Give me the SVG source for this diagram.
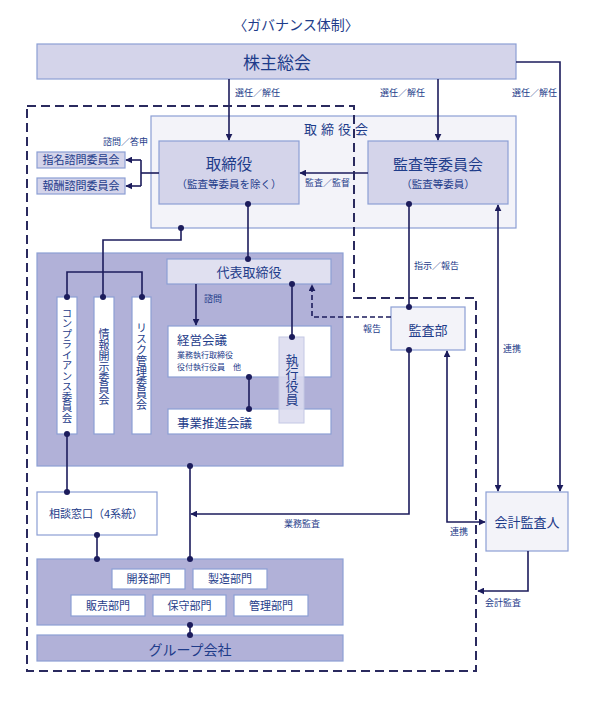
<svg xmlns="http://www.w3.org/2000/svg" width="595" height="702" viewBox="0 0 595 702">
<defs>
<style>
text{font-family:"Noto Sans CJK JP","Noto Sans",sans-serif;fill:#1e3c8a}
.box{stroke:#8c9fd4;stroke-width:1.2}
.lav{fill:#d4d4ea}
.pale{fill:#f3f3f9}
.wht{fill:#ffffff}
.pur{fill:#b1b1d8}
.ln{fill:none;stroke:#1c1c5c;stroke-width:1.6}
.dash{fill:none;stroke:#2a2a5e;stroke-width:2;stroke-dasharray:9 5}
.lbl{font-size:9px}
.mid{text-anchor:middle}
.vt{writing-mode:vertical-rl;text-anchor:middle}
</style>
<marker id="ar" viewBox="0 0 10 10" refX="9" refY="5" markerWidth="7" markerHeight="7" markerUnits="userSpaceOnUse" orient="auto-start-reverse">
<path d="M0,0 L10,5 L0,10 z" fill="#1c1c5c"/>
</marker>
<marker id="dt" viewBox="0 0 10 10" refX="5" refY="5" markerWidth="6" markerHeight="6" markerUnits="userSpaceOnUse">
<circle cx="5" cy="5" r="5" fill="#1c1c5c"/>
</marker>
</defs>
<rect width="595" height="702" fill="#ffffff"/>
<text id="title" x="296" y="30" class="mid" font-size="14">〈ガバナンス体制〉</text>

<g id="shareholders">
<rect class="box lav" x="37" y="44" width="479" height="35"/>
<text x="277" y="69" class="mid" font-size="17">株主総会</text>
</g>
<g id="board">
<rect class="box pale" x="151" y="116" width="365" height="112"/>
<text x="304" y="134" font-size="13" letter-spacing="4">取締役会</text>
</g>
<g id="directors">
<rect class="box lav" x="159" y="141" width="140" height="63"/>
<text x="229" y="170" class="mid" font-size="15.5">取締役</text>
<text x="229" y="187.5" class="mid" font-size="10.5">（監査等委員を除く）</text>
</g>
<g id="audit-committee">
<rect class="box lav" x="368" y="141" width="140" height="63"/>
<text x="438" y="170" class="mid" font-size="15">監査等委員会</text>
<text x="438" y="187.5" class="mid" font-size="10.5">（監査等委員）</text>
</g>
<g id="nomination">
<rect class="box lav" x="37" y="152" width="88" height="16"/>
<text x="81" y="164" class="mid" font-size="11">指名諮問委員会</text>
</g>
<g id="remuneration">
<rect class="box lav" x="37" y="178" width="88" height="16"/>
<text x="81" y="190" class="mid" font-size="11">報酬諮問委員会</text>
</g>
<g id="executive">
<rect class="box pur" x="37" y="253" width="306" height="213"/>
</g>
<g id="ceo">
<rect class="box" fill="#e0e0f0" x="167" y="259" width="164" height="25"/>
<text x="249" y="277" class="mid" font-size="13">代表取締役</text>
</g>
<g id="compliance">
<rect class="box wht" x="57" y="297" width="20" height="137"/>
<text x="67" y="365.5" class="vt" font-size="10.5">コンプライアンス委員会</text>
</g>
<g id="disclosure">
<rect class="box wht" x="94" y="297" width="20" height="137"/>
<text x="104" y="366.5" class="vt" font-size="11">情報開示委員会</text>
</g>
<g id="risk">
<rect class="box wht" x="132" y="297" width="19" height="137"/>
<text x="141.5" y="366.5" class="vt" font-size="11">リスク管理委員会</text>
</g>
<g id="management">
<rect class="box wht" x="168" y="326" width="163" height="51"/>
<text x="177" y="344.5" font-size="12.5">経営会議</text>
<text x="177" y="358.2" font-size="8">業務執行取締役</text>
<text x="177" y="370.2" font-size="8">役付執行役員　他</text>
</g>
<g id="business">
<rect class="box wht" x="168" y="409" width="163" height="25"/>
<text x="177" y="427.5" font-size="12.5">事業推進会議</text>
</g>
<g id="officers">
<rect x="279" y="337" width="25" height="86" fill="#dcdcef" fill-opacity="0.88" stroke="#c4c8e4" stroke-width="1"/>
<text x="292" y="380" class="vt" font-size="13">執行役員</text>
</g>
<g id="internal-audit">
<rect class="box pale" x="391" y="307" width="74" height="43"/>
<text x="428" y="335" class="mid" font-size="13">監査部</text>
</g>
<g id="auditor">
<rect class="box pale" x="486" y="492" width="82" height="59"/>
<text x="527" y="527" class="mid" font-size="13">会計監査人</text>
</g>
<g id="hotline">
<rect class="box wht" x="37" y="492" width="120" height="43"/>
<text x="96" y="518" class="mid" font-size="11">相談窓口（4系統）</text>
</g>
<g id="divisions">
<rect class="box pur" x="37" y="559" width="306" height="66"/>
<rect class="box wht" x="112" y="569" width="73" height="20"/>
<text x="148.5" y="583" class="mid" font-size="11">開発部門</text>
<rect class="box wht" x="193" y="569" width="74" height="20"/>
<text x="230" y="583" class="mid" font-size="11">製造部門</text>
<rect class="box wht" x="71" y="595" width="74" height="21"/>
<text x="108" y="609.5" class="mid" font-size="11">販売部門</text>
<rect class="box wht" x="153" y="595" width="73" height="21"/>
<text x="189.5" y="609.5" class="mid" font-size="11">保守部門</text>
<rect class="box wht" x="234" y="595" width="74" height="21"/>
<text x="271" y="609.5" class="mid" font-size="11">管理部門</text>
</g>
<g id="group">
<rect class="box pur" x="37" y="635" width="306" height="26"/>
<text x="190" y="655" class="mid" font-size="14">グループ会社</text>
</g>

<g id="connectors">
<path class="ln" d="M229,79 V140" marker-end="url(#ar)"/>
<path class="ln" d="M438,79 V140" marker-end="url(#ar)"/>
<path class="ln" d="M516,62 H560 V491" marker-end="url(#ar)"/>
<path class="ln" d="M368,173 H300" marker-end="url(#ar)"/>
<path class="ln" d="M159,173 H141"/>
<path class="ln" d="M141,160 V186"/>
<path class="ln" d="M141,160 H126" marker-end="url(#ar)"/>
<path class="ln" d="M141,186 H126" marker-end="url(#ar)"/>
<path class="ln" d="M248,204 V259" marker-start="url(#dt)" marker-end="url(#dt)"/>
<path class="ln" d="M181,228 V240 H103 V297" marker-start="url(#dt)" marker-end="url(#dt)"/>
<path class="ln" d="M67,297 V272 H142 V297" marker-start="url(#dt)" marker-end="url(#dt)"/>
<path class="ln" d="M196,284 V325" marker-end="url(#ar)"/>
<path class="ln" d="M292,284 V337" marker-start="url(#dt)" marker-end="url(#dt)"/>
<path class="ln" d="M249,377 V409" marker-start="url(#dt)" marker-end="url(#dt)"/>
<path class="ln" d="M391,317 H312 V285" stroke-dasharray="5 3" marker-end="url(#ar)"/>
<path class="ln" d="M409,204 V307" marker-start="url(#dt)" marker-end="url(#dt)"/>
<path class="ln" d="M409,350 V514 H191" marker-start="url(#dt)" marker-end="url(#ar)"/>
<path class="ln" d="M447,351 V522 H485" marker-start="url(#ar)" marker-end="url(#ar)"/>
<path class="ln" d="M498,205 V491" marker-start="url(#ar)" marker-end="url(#ar)"/>
<path class="ln" d="M528,551 V591 H478" marker-end="url(#ar)"/>
<path class="ln" d="M67,434 V492" marker-start="url(#dt)" marker-end="url(#dt)"/>
<path class="ln" d="M97,535 V559" marker-start="url(#dt)" marker-end="url(#dt)"/>
<path class="ln" d="M190,466 V559" marker-start="url(#dt)" marker-end="url(#dt)"/>
<path class="ln" d="M190,625 V635" marker-start="url(#dt)" marker-end="url(#dt)"/>
<path class="dash" d="M27,106 H354 V298 H476 V671 H27 Z"/>
<text x="235" y="95.5" class="lbl">選任／解任</text>
<text x="380" y="95.5" class="lbl">選任／解任</text>
<text x="512" y="95.5" class="lbl">選任／解任</text>
<text x="103" y="144.5" class="lbl">諮問／答申</text>
<text x="305" y="185.5" class="lbl">監査／監督</text>
<text x="414" y="268.5" class="lbl">指示／報告</text>
<text x="204" y="302" class="lbl">諮問</text>
<text x="363" y="331.5" class="lbl">報告</text>
<text x="503" y="351.5" class="lbl">連携</text>
<text x="284" y="526.5" class="lbl">業務監査</text>
<text x="450" y="534.5" class="lbl">連携</text>
<text x="485" y="605.5" class="lbl">会計監査</text>
</g>
</svg>
